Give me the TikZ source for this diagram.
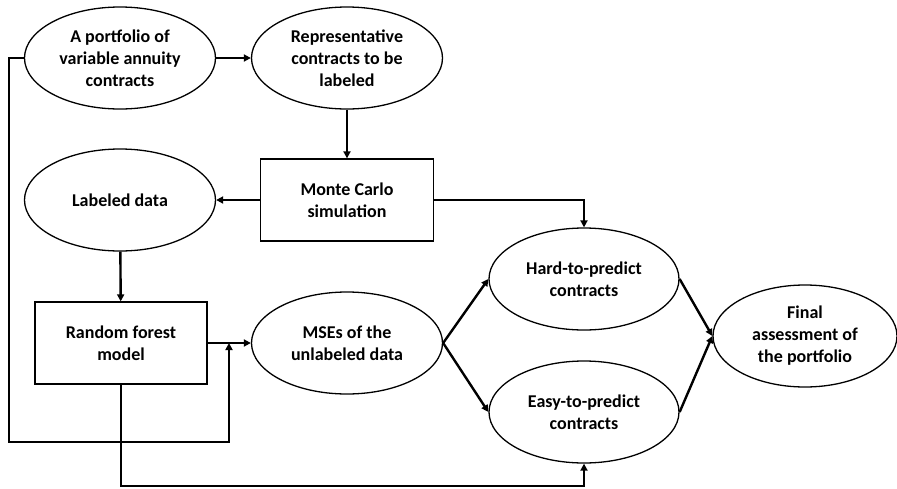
\documentclass[tikz,border=0pt]{standalone}
\usepackage{fontspec}
\setmainfont{Carlito}
\usetikzlibrary{arrows.meta,shapes.geometric}
\begin{document}
\begin{tikzpicture}[x=1pt,y=-1pt,
  every node/.style={font=\fontsize{18}{22}\selectfont\bfseries, align=center, inner sep=0pt},
  ell/.style={draw, ellipse, line width=1.3pt, minimum width=191pt, minimum height=102pt},
  boxn/.style={draw, rectangle, line width=1.3pt, minimum width=173pt, minimum height=82pt},
  arr/.style={line width=2.4pt, -{Triangle[length=7pt,width=7pt]}},
  ln/.style={line width=2.4pt}]
\fill[white] (0,0) rectangle (897,488);
\useasboundingbox (0,0) rectangle (897,488);
\node[ell] (A) at (120,58) {A portfolio of\\variable annuity\\contracts};
\node[ell] (B) at (347,58) {Representative\\contracts to be\\labeled};
\node[boxn] (MC) at (347,200) {Monte Carlo\\simulation};
\node[ell] (LD) at (120,200) {Labeled data};
\node[boxn, minimum width=172pt] (RF) at (121,343) {Random forest\\model};
\node[ell] (MSE) at (347,343) {MSEs of the\\unlabeled data};
\node[ell, minimum width=190pt] (H) at (584,279) {Hard-to-predict\\contracts};
\node[ell, minimum width=190pt] (E) at (584,412) {Easy-to-predict\\contracts};
\node[ell, minimum width=184pt] (F) at (805,336) {Final\\assessment of\\the portfolio};
\coordinate (jn) at (229,343);
\coordinate (lc) at (9,442);
\coordinate (bc) at (121,486);
\draw[arr] (A) -- (B);
\draw[arr] (B) -- (MC);
\draw[arr] (MC) -- (LD);
\draw[arr] (MC.east) -| (H.north);
\draw[arr] (LD) -- (RF);
\draw[arr] (RF) -- (MSE);
\draw[arr] (A.west) -| (lc) -| (jn);
\draw[arr] (RF.south) -- (bc) -| (E.south);
\draw[arr] (MSE.east) -- (H.west);
\draw[arr] (MSE.east) -- (E.west);
\draw[arr] (H.east) -- (F.west);
\draw[arr] (E.east) -- (F.west);
\end{tikzpicture}
\end{document}
